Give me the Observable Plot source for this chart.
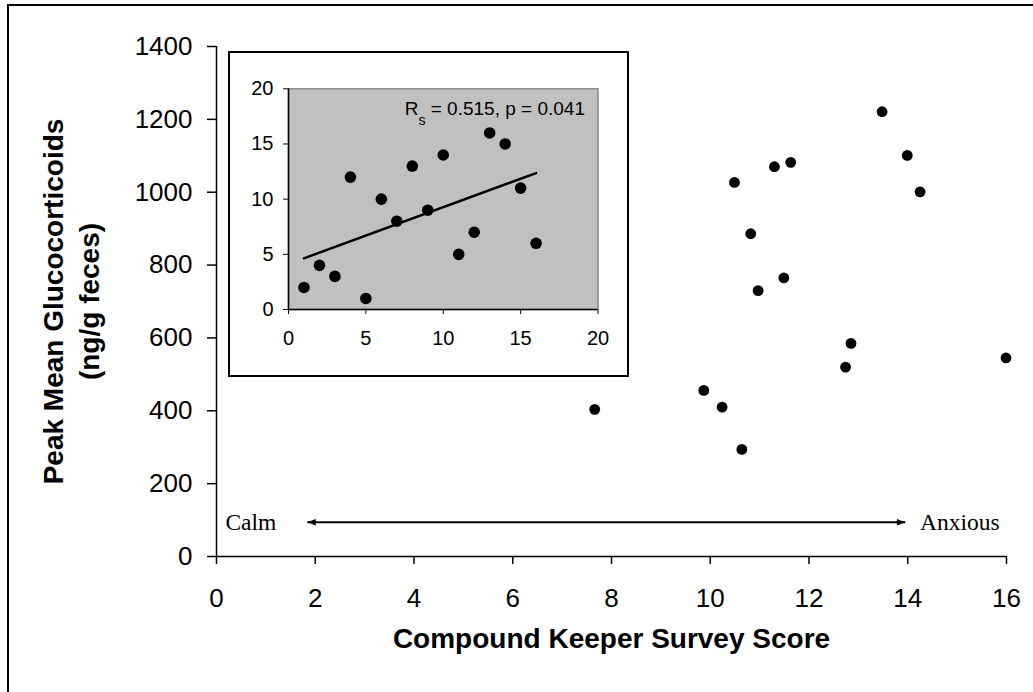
<!DOCTYPE html>
<html><head><meta charset="utf-8">
<script src="https://cdn.jsdelivr.net/npm/d3@7"></script>
<script src="https://cdn.jsdelivr.net/npm/@observablehq/plot@0.6"></script>
<style>
html,body{margin:0;padding:0;background:#fff;overflow:hidden;width:1033px;height:692px}
#wrap{position:relative;width:1033px;height:692px;overflow:hidden}
#frame{position:absolute;left:7px;top:4px;width:1100px;height:800px;border-left:2px solid #000;border-top:2px solid #000}
#main{position:absolute;left:0;top:0}
#inset{position:absolute;left:229px;top:52px;width:399px;height:324px;background:#fff;outline:2px solid #000;outline-offset:-1px}
#inset svg{position:absolute;left:0;top:0}
#main svg [aria-label$="axis tick"]{stroke-width:1.5}
#main svg .tick line{stroke-width:1.5}
</style></head><body>
<div id="wrap"><div id="frame"></div><div id="main"></div><div id="inset"></div></div>
<script>
// Main scatter: Compound Keeper Survey Score vs Peak Mean Glucocorticoids
const keeperScore = [7.66, 9.87, 10.24, 10.49, 10.64, 10.82, 10.97, 11.30, 11.49, 11.63, 12.74, 12.85, 13.48, 13.99, 14.25, 15.99];
const glucocorticoids = [404, 456, 410, 1027, 294, 886, 730, 1070, 765, 1082, 520, 585, 1221, 1101, 1001, 545];
// Inset: ranks
const rankScore = [1, 2, 3, 4, 5, 6, 7, 8, 9, 10, 11, 12, 13, 14, 15, 16];
const rankGluco = [2, 4, 3, 12, 1, 10, 8, 13, 9, 14, 5, 7, 16, 15, 11, 6];
// Ticks
const xTicks = [0, 2, 4, 6, 8, 10, 12, 14, 16];
const yTicks = [0, 200, 400, 600, 800, 1000, 1200, 1400];
const insetTicks = [0, 5, 10, 15, 20];
// Texts
const xTitle = "Compound Keeper Survey Score";
const yTitle = "Peak Mean Glucocorticoids\n(ng/g feces)";
const statMain = "R";
const statSub = "s";
const statRest = " = 0.515, p = 0.041";
// Calm / Anxious scale annotation (data coordinates)
const scaleLabels = ["Calm", "Anxious"];
const scaleLabelX = [0.18, 14.25];
const arrowX = [1.84, 13.95];
const arrowY = 94;

const mainData = keeperScore.map((x, i) => ({x, y: glucocorticoids[i]}));
const insetData = rankScore.map((x, i) => ({x, y: rankGluco[i]}));
const labelData = scaleLabels.map((label, i) => ({label, x: scaleLabelX[i], y: arrowY}));

const leftHead = {draw(ctx, size) { const r = Math.sqrt(size / Math.PI); ctx.moveTo(0, 0); ctx.lineTo(2 * r, -0.75 * r); ctx.lineTo(2 * r, 0.75 * r); ctx.closePath(); }};
const rightHead = {draw(ctx, size) { const r = Math.sqrt(size / Math.PI); ctx.moveTo(0, 0); ctx.lineTo(-2 * r, -0.75 * r); ctx.lineTo(-2 * r, 0.75 * r); ctx.closePath(); }};
const plain = d => String(d);

const main = Plot.plot({
  width: 1033, height: 692,
  marginLeft: 216, marginRight: 27, marginTop: 46, marginBottom: 136,
  style: {fontFamily: "'Liberation Sans', Arial, sans-serif", fontSize: "26px", color: "#000", background: "transparent", overflow: "visible"},
  x: {domain: [0, 16], ticks: xTicks, tickFormat: plain, tickSize: 8, tickPadding: 24, label: null},
  y: {domain: [0, 1400], ticks: yTicks, tickFormat: plain, tickSize: 9, tickPadding: 15, label: null},
  marks: [
    Plot.ruleX([0], {stroke: "#000", strokeWidth: 1.5}),
    Plot.ruleY([0], {stroke: "#000", strokeWidth: 1.5}),
    Plot.link([{x1: arrowX[0], x2: arrowX[1], y: arrowY}], {x1: "x1", x2: "x2", y1: "y", y2: "y", stroke: "#000", strokeWidth: 2}),
    Plot.dot([{x: arrowX[0], y: arrowY}], {x: "x", y: "y", symbol: leftHead, r: 4.2, fill: "#000", stroke: "none"}),
    Plot.dot([{x: arrowX[1], y: arrowY}], {x: "x", y: "y", symbol: rightHead, r: 4.2, fill: "#000", stroke: "none"}),
    Plot.text(labelData, {x: "x", y: "y", text: "label", textAnchor: "start", fontFamily: "'Liberation Serif', 'Times New Roman', serif", fontSize: 23.5, fill: "#000"}),
    Plot.dot(mainData, {x: "x", y: "y", r: 5.4, fill: "#000", stroke: "none"}),
    Plot.text([xTitle], {frameAnchor: "bottom", dy: 91, fontWeight: "bold", fontSize: 28, fill: "#000"}),
    Plot.text([yTitle], {frameAnchor: "left", dx: -147, rotate: -90, textAnchor: "middle", lineAnchor: "middle", fontWeight: "bold", fontSize: 28, lineHeight: 1.3, fill: "#000"})
  ]
});
document.getElementById("main").appendChild(main);

const inset = Plot.plot({
  width: 399, height: 324,
  marginLeft: 59, marginRight: 30.5, marginTop: 36.3, marginBottom: 67,
  style: {fontFamily: "'Liberation Sans', Arial, sans-serif", fontSize: "20px", color: "#000", background: "transparent", overflow: "visible"},
  x: {domain: [0, 20], ticks: insetTicks, tickFormat: plain, tickSize: 5, tickPadding: 16, label: null},
  y: {domain: [0, 20], ticks: insetTicks, tickFormat: plain, tickSize: 5, tickPadding: 10, label: null},
  marks: [
    Plot.frame({fill: "#c0c0c0", stroke: "#8a8a8a", strokeWidth: 1.5}),
    Plot.ruleX([0], {stroke: "#000", strokeWidth: 1.5}),
    Plot.ruleY([0], {stroke: "#000", strokeWidth: 1.5}),
    Plot.linearRegressionY(insetData, {x: "x", y: "y", ci: 0, stroke: "#000", strokeWidth: 2.5}),
    Plot.dot(insetData, {x: "x", y: "y", r: 5.8, fill: "#000", stroke: "none"}),
    Plot.text([statMain + statSub + statRest], {frameAnchor: "top-right", dx: -13, dy: 13, lineAnchor: "top", textAnchor: "end", fontSize: 19, fill: "#000"})
  ]
});
document.getElementById("inset").appendChild(inset);

// subscript for R_s
const full = statMain + statSub + statRest;
const t = [...inset.querySelectorAll("text")].find(e => e.textContent === full);
if (t) {
  const ns = "http://www.w3.org/2000/svg";
  t.textContent = "";
  const a = document.createElementNS(ns, "tspan"); a.textContent = statMain;
  const b = document.createElementNS(ns, "tspan"); b.textContent = statSub; b.setAttribute("font-size", "14"); b.setAttribute("dy", "10");
  const c = document.createElementNS(ns, "tspan"); c.textContent = statRest; c.setAttribute("dy", "-10");
  t.append(a, b, c);
}
</script>
</body></html>
